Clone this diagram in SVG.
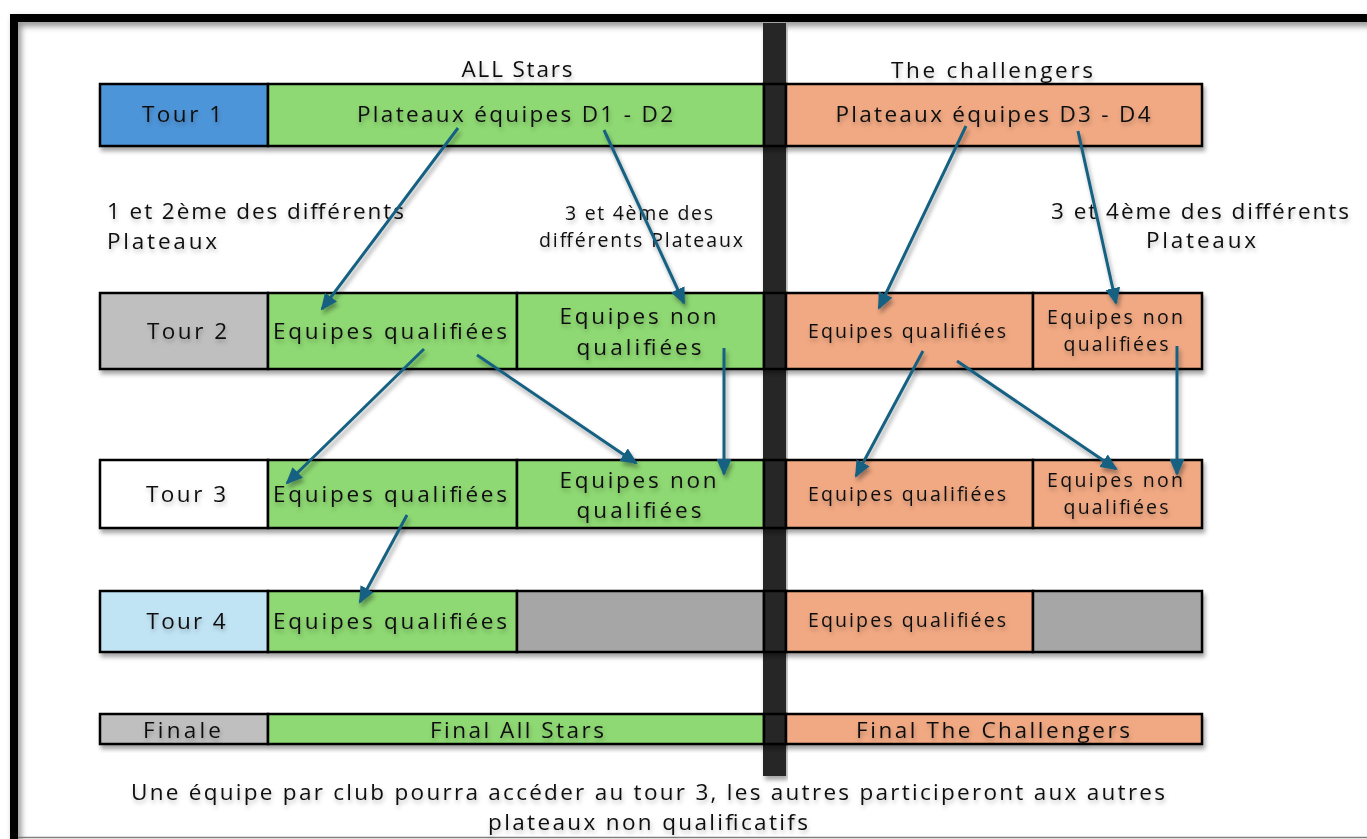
<svg xmlns="http://www.w3.org/2000/svg" width="1367" height="839" viewBox="0 0 1367 839">
<defs>
<filter id="sh" x="-5%" y="-20%" width="110%" height="150%">
<feDropShadow dx="2" dy="4" stdDeviation="2" flood-color="#000" flood-opacity="0.35"/>
</filter>
<filter id="tsh" x="-5%" y="-30%" width="110%" height="170%">
<feDropShadow dx="1" dy="3" stdDeviation="2" flood-color="#000" flood-opacity="0.25"/>
</filter>
<filter id="fsh" x="-2%" y="-2%" width="104%" height="104%">
<feDropShadow dx="3" dy="4" stdDeviation="3" flood-color="#000" flood-opacity="0.45"/>
</filter>
<marker id="ah" markerUnits="userSpaceOnUse" markerWidth="17" markerHeight="15" refX="15" refY="7.5" orient="auto">
<path d="M0,0 L17,7.5 L0,15 z" fill="#156082"/>
</marker>
<style>
.c{stroke:#000;stroke-width:2.5}
.bl{fill:#4e95d9}.gr{fill:#8ed973}.or{fill:#f1a983}.g1{fill:#bfbfbf}.g2{fill:#a6a6a6}.wh{fill:#fff}.lb{fill:#c1e4f5}.dk{fill:#262626}
text{font-family:"Open Sans","Liberation Sans",sans-serif;fill:#111;text-anchor:middle;filter:url(#tsh)}
.f21{font-size:22.5px}.f18{font-size:19.5px}
.arr{stroke:#156082;stroke-width:3;fill:none;marker-end:url(#ah)}
</style>
</defs>
<rect width="1367" height="839" fill="#fff"/>
<g id="frame" filter="url(#fsh)">
<rect x="14" y="18" width="1400" height="900" fill="none" stroke="#000" stroke-width="8"/>
</g>
<line x1="18" y1="837.5" x2="1367" y2="837.5" stroke="#7f7f7f" stroke-width="1.5"/>
<g id="divider" filter="url(#sh)">
<rect x="763" y="23" width="23" height="753" class="dk"/>
</g>

<g id="headers">
<text class="f21" x="517" y="77" textLength="111">ALL Stars</text>
<text class="f21" x="992" y="78" textLength="202">The challengers</text>
</g>

<g id="row1" filter="url(#sh)">
<rect x="100" y="84" width="168" height="62" class="c bl"/>
<rect x="268" y="84" width="496" height="62" class="c gr"/>
<rect x="764" y="84" width="22" height="62" class="c dk"/>
<rect x="786" y="84" width="416" height="62" class="c or"/>
</g>
<g id="row1-text">
<text class="f21" x="182" y="122" textLength="80">Tour 1</text>
<text class="f21" x="515" y="122" textLength="316">Plateaux équipes D1 - D2</text>
<text class="f21" x="993" y="122" textLength="315">Plateaux équipes D3 - D4</text>
</g>

<g id="notes">
<text class="f21" x="107" y="219" textLength="297" style="text-anchor:start">1 et 2ème des différents</text>
<text class="f21" x="107" y="249" textLength="110" style="text-anchor:start">Plateaux</text>
<text class="f18" x="639" y="220" textLength="148">3 et 4ème des</text>
<text class="f18" x="641" y="247" textLength="204">différents Plateaux</text>
<text class="f21" x="1200" y="219" textLength="298">3 et 4ème des différents</text>
<text class="f21" x="1201" y="248" textLength="110">Plateaux</text>
</g>

<g id="row2" filter="url(#sh)">
<rect x="100" y="293" width="168" height="76" class="c g1"/>
<rect x="268" y="293" width="249" height="76" class="c gr"/>
<rect x="517" y="293" width="247" height="76" class="c gr"/>
<rect x="764" y="293" width="22" height="76" class="c dk"/>
<rect x="786" y="293" width="247" height="76" class="c or"/>
<rect x="1033" y="293" width="169" height="76" class="c or"/>
</g>
<g id="row2-text">
<text class="f21" x="187" y="339" textLength="80">Tour 2</text>
<text class="f21" x="390" y="339" textLength="234">Equipes qualifiées</text>
<text class="f21" x="638" y="324" textLength="157">Equipes non</text>
<text class="f21" x="639" y="355" textLength="125">qualifiées</text>
<text class="f18" x="907" y="338" textLength="198">Equipes qualifiées</text>
<text class="f18" x="1115" y="324" textLength="136">Equipes non</text>
<text class="f18" x="1116" y="351" textLength="105">qualifiées</text>
</g>

<g id="row3" filter="url(#sh)">
<rect x="100" y="460" width="168" height="68" class="c wh"/>
<rect x="268" y="460" width="249" height="68" class="c gr"/>
<rect x="517" y="460" width="247" height="68" class="c gr"/>
<rect x="764" y="460" width="22" height="68" class="c dk"/>
<rect x="786" y="460" width="247" height="68" class="c or"/>
<rect x="1033" y="460" width="169" height="68" class="c or"/>
</g>
<g id="row3-text">
<text class="f21" x="186" y="502" textLength="80">Tour 3</text>
<text class="f21" x="390" y="502" textLength="234">Equipes qualifiées</text>
<text class="f21" x="638" y="488" textLength="157">Equipes non</text>
<text class="f21" x="639" y="518" textLength="125">qualifiées</text>
<text class="f18" x="907" y="501" textLength="198">Equipes qualifiées</text>
<text class="f18" x="1115" y="487" textLength="136">Equipes non</text>
<text class="f18" x="1116" y="514" textLength="105">qualifiées</text>
</g>

<g id="row4" filter="url(#sh)">
<rect x="100" y="591" width="168" height="61" class="c lb"/>
<rect x="268" y="591" width="249" height="61" class="c gr"/>
<rect x="517" y="591" width="247" height="61" class="c g2"/>
<rect x="764" y="591" width="22" height="61" class="c dk"/>
<rect x="786" y="591" width="247" height="61" class="c or"/>
<rect x="1033" y="591" width="169" height="61" class="c g2"/>
</g>
<g id="row4-text">
<text class="f21" x="186" y="629" textLength="79">Tour 4</text>
<text class="f21" x="390" y="629" textLength="234">Equipes qualifiées</text>
<text class="f18" x="907" y="627" textLength="198">Equipes qualifiées</text>
</g>

<g id="finale" filter="url(#sh)">
<rect x="100" y="714" width="168" height="30" class="c g1"/>
<rect x="268" y="714" width="496" height="30" class="c gr"/>
<rect x="764" y="714" width="22" height="30" class="c dk"/>
<rect x="786" y="714" width="416" height="30" class="c or"/>
</g>
<g id="finale-text">
<text class="f21" x="182" y="738" textLength="78">Finale</text>
<text class="f21" x="517" y="738" textLength="174">Final All Stars</text>
<text class="f21" x="993" y="738" textLength="274">Final The Challengers</text>
</g>

<g id="footer">
<text class="f21" x="648" y="800" textLength="1034">Une équipe par club pourra accéder au tour 3, les autres participeront aux autres</text>
<text class="f21" x="648" y="830" textLength="320">plateaux non qualificatifs</text>
</g>

<g id="connectors" filter="url(#sh)">
<line class="arr" x1="458" y1="128" x2="322" y2="309"/>
<line class="arr" x1="604" y1="130" x2="684" y2="303"/>
<line class="arr" x1="966" y1="126" x2="879" y2="308"/>
<line class="arr" x1="1078" y1="131" x2="1116" y2="303"/>
<line class="arr" x1="424" y1="349" x2="287" y2="483"/>
<line class="arr" x1="477" y1="355" x2="636" y2="463"/>
<line class="arr" x1="724" y1="348" x2="724" y2="474"/>
<line class="arr" x1="923" y1="351" x2="856" y2="476"/>
<line class="arr" x1="957" y1="361" x2="1116" y2="469"/>
<line class="arr" x1="1177" y1="346" x2="1177" y2="474"/>
<line class="arr" x1="407" y1="515" x2="360" y2="602"/>
</g>
</svg>
